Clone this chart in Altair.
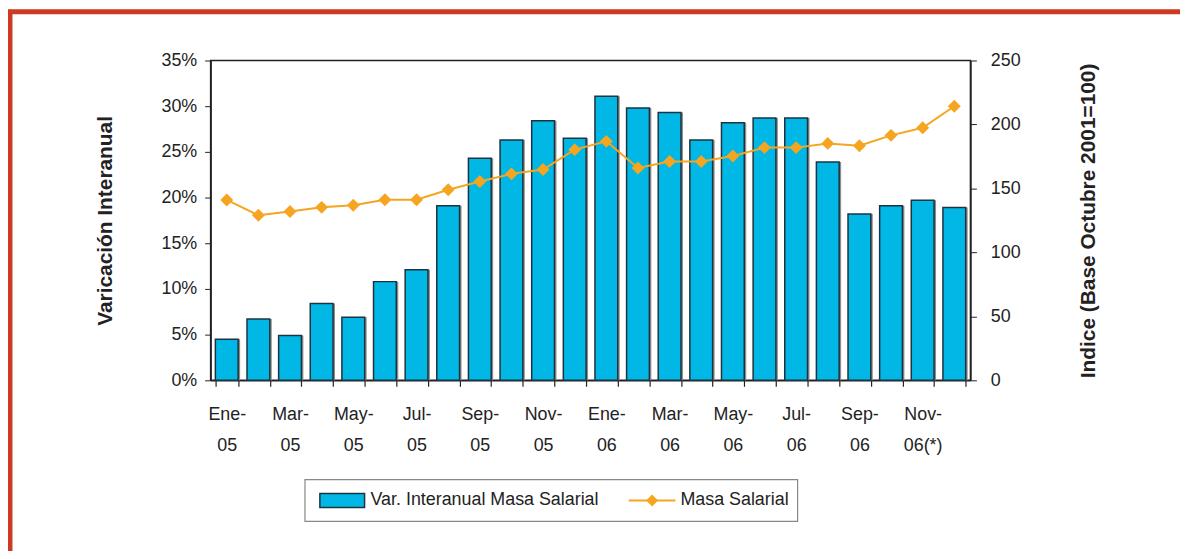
import altair as alt
import pandas as pd

# ---- data ----
meses = ["Ene-|05", "Feb-|05", "Mar-|05", "Abr-|05", "May-|05", "Jun-|05",
         "Jul-|05", "Ago-|05", "Sep-|05", "Oct-|05", "Nov-|05", "Dic-|05",
         "Ene-|06", "Feb-|06", "Mar-|06", "Abr-|06", "May-|06", "Jun-|06",
         "Jul-|06", "Ago-|06", "Sep-|06", "Oct-|06", "Nov-|06(*)", "Dic-|06"]
meses_con_etiqueta = ["Ene", "Mar", "May", "Jul", "Sep", "Nov"]
var_interanual = [4.5, 6.7, 4.9, 8.4, 6.9, 10.8, 12.1, 19.1, 24.3, 26.3, 28.4, 26.5,
                  31.1, 29.8, 29.3, 26.3, 28.2, 28.7, 28.7, 23.9, 18.2, 19.1, 19.7, 18.9]
masa_salarial = [141.0, 129.0, 132.0, 135.2, 136.8, 141.2, 141.2, 149.0, 155.4, 161.4, 164.8, 180.3,
                 186.8, 166.0, 171.0, 171.0, 175.4, 181.9, 181.9, 185.2, 183.4, 191.5, 197.4, 214.2]
serie_barras = "Var. Interanual Masa Salarial"
serie_linea = "Masa Salarial"
ticks_izq = [0, 0.05, 0.10, 0.15, 0.20, 0.25, 0.30, 0.35]
ticks_der = [0, 50, 100, 150, 200, 250]
titulo_izq = "Varicación Interanual"
titulo_der = "Indice (Base Octubre 2001=100)"

# ---- styling ----
FONT = "Liberation Sans"
CIAN = "#00B7E6"
NARANJA = "#F5A51F"
BORDE_BARRA = "#1D3440"
TXT = "#222222"
ROJO = "#CC3A22"

df = pd.DataFrame({
    "mes": meses,
    "pct": [v / 100 for v in var_interanual],
    "masa": masa_salarial,
})

# guarded: the extra "extent" tick has no value
label_expr = ("isValid(datum.value) && indexof(" + str(meses_con_etiqueta) +
              ", slice(datum.value + '', 0, 3)) >= 0 ? split(datum.value + '', '|') : ''")

x = alt.X("mes:N", sort=meses,
          scale=alt.Scale(paddingInner=0.28, paddingOuter=0.15),
          axis=alt.Axis(title=None, labelAngle=0, labelExpr=label_expr, tickBand="extent",
                        tickSize=6, labelPadding=19, labelLineHeight=32, labelFontSize=18,
                        labelFont=FONT, labelColor=TXT, domainColor=TXT, tickColor=TXT,
                        domainWidth=1.5, tickWidth=1.2, labelOverlap=False))

y_izq = alt.Y("pct:Q", scale=alt.Scale(domain=[0, 0.35], nice=False), stack=None,
              axis=alt.Axis(values=ticks_izq, format=".0%", title=titulo_izq, grid=False,
                            tickSize=6, labelPadding=8, labelFontSize=18, labelFont=FONT,
                            labelColor=TXT, domainColor=TXT, tickColor=TXT, domainWidth=1.5,
                            titleFont=FONT, titleFontSize=21, titleFontWeight="bold",
                            titleColor=TXT, titlePadding=46))

y_der = alt.Y("masa:Q", scale=alt.Scale(domain=[0, 250], nice=False),
              axis=alt.Axis(orient="right", values=ticks_der, title=titulo_der, grid=False,
                            tickSize=6, labelPadding=14, labelFontSize=18, labelFont=FONT,
                            labelColor=TXT, domainColor=TXT, tickColor=TXT, domainWidth=1.5,
                            titleFont=FONT, titleFontSize=21, titleFontWeight="bold",
                            titleColor=TXT, titleAngle=270, titlePadding=79))

sombra = alt.Chart(df).mark_bar(color="#8C8C8C", xOffset=2).encode(x=x, y=y_izq)
barras = alt.Chart(df).mark_bar(fill=CIAN, stroke=BORDE_BARRA, strokeWidth=1.5).encode(
    x=x, y=y_izq)
izq = alt.layer(sombra, barras)

linea = alt.Chart(df).mark_line(color=NARANJA, strokeWidth=2).encode(x=x, y=y_der)
puntos = alt.Chart(df).mark_point(shape="diamond", size=169, filled=True, opacity=1,
                                  color=NARANJA).encode(x=x, y=y_der)
der = alt.layer(linea, puntos)

# ---- legend (drawn as decoration) ----
uno = pd.DataFrame({"k": [0]})
ley_bar = pd.DataFrame({"t": [serie_barras]})
ley_lin = pd.DataFrame({"t": [serie_linea]})
caja_leyenda = alt.Chart(uno).mark_rect(fill="white", stroke="#888888", strokeWidth=1.2).encode(
    x=alt.value(95), x2=alt.value(591), y=alt.value(422), y2=alt.value(464))
sim_bar = alt.Chart(uno).mark_rect(fill=CIAN, stroke=BORDE_BARRA, strokeWidth=1.5).encode(
    x=alt.value(110), x2=alt.value(155), y=alt.value(436), y2=alt.value(450))
txt_bar = alt.Chart(ley_bar).mark_text(align="left", baseline="middle", font=FONT,
                                       fontSize=18, color=TXT).encode(
    text="t:N", x=alt.value(161), y=alt.value(443))
sim_lin = alt.Chart(uno).mark_rule(color=NARANJA, strokeWidth=2).encode(
    x=alt.value(421), x2=alt.value(468), y=alt.value(443))
sim_pto = alt.Chart(uno).mark_point(shape="diamond", size=144, filled=True, opacity=1,
                                    color=NARANJA).encode(x=alt.value(444.5), y=alt.value(443))
txt_lin = alt.Chart(ley_lin).mark_text(align="left", baseline="middle", font=FONT,
                                       fontSize=18, color=TXT).encode(
    text="t:N", x=alt.value(473), y=alt.value(443))

borde_izq = alt.Chart(uno).mark_rule(color=ROJO, strokeWidth=5).encode(
    x=alt.value(-202), y=alt.value(-51), y2=alt.value(500))
borde_sup = alt.Chart(uno).mark_rule(color=ROJO, strokeWidth=5).encode(
    x=alt.value(-204), x2=alt.value(980), y=alt.value(-49))

chart = alt.layer(izq, der, caja_leyenda, sim_bar, txt_bar, sim_lin, sim_pto, txt_lin,
                  borde_izq, borde_sup).resolve_scale(y="independent").properties(
    width=765, height=322,
    autosize=alt.AutoSizeParams(type="none"),
    padding={"left": 204, "top": 51, "right": 211, "bottom": 170},
    background="white",
).configure_view(stroke=TXT, strokeWidth=1.5)

chart.save("out.html", embed_options={"renderer": "svg", "actions": False})
